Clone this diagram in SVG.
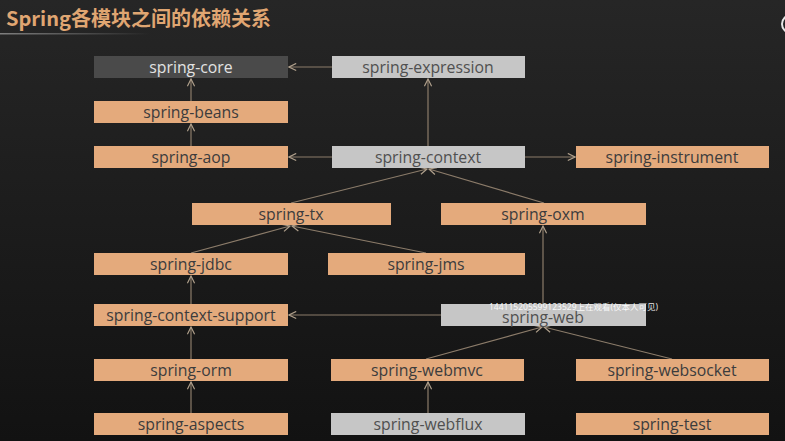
<svg xmlns="http://www.w3.org/2000/svg" width="785" height="441" viewBox="0 0 785 441">
<defs>
<linearGradient id="bg" x1="0" y1="0" x2="0" y2="1">
<stop offset="0" stop-color="#262626"/>
<stop offset="0.5" stop-color="#1c1c1c"/>
<stop offset="1" stop-color="#121212"/>
</linearGradient>
<linearGradient id="ul" x1="0" y1="0" x2="1" y2="0">
<stop offset="0" stop-color="#888" stop-opacity="0.9"/>
<stop offset="1" stop-color="#888" stop-opacity="0"/>
</linearGradient>
<marker id="arr" viewBox="0 0 10 10" refX="9" refY="5" markerWidth="9" markerHeight="9" markerUnits="userSpaceOnUse" orient="auto">
<path d="M1,1 L9,5 L1,9" fill="none" stroke="#b0a08c" stroke-width="1.3"/>
</marker>
<style>
.o{fill:#e4aa7c}
.g{fill:#c6c6c6}
.d{fill:#4a4a4a}
.t{font-family:"Open Sans","Noto Sans","DejaVu Sans",sans-serif;font-size:15.8px;text-anchor:middle;fill:#3c3c3c}
.tg{fill:#505050}
.td{fill:#e2e2e2}
.c line{stroke:#8c7c6a;stroke-width:1.2;marker-end:url(#arr)}
</style>
</defs>
<rect width="785" height="441" fill="url(#bg)"/>
<text x="6" y="26" font-family="'Noto Sans CJK SC','Noto Sans',sans-serif" font-size="20" font-weight="bold" fill="#e0a672">Spring各模块之间的依赖关系</text>
<rect x="0" y="33" width="150" height="1.5" fill="url(#ul)"/>
<circle cx="791" cy="24" r="9" fill="none" stroke="#e8e8e8" stroke-width="2"/>
<g class="c">
<line x1="332" y1="67" x2="289" y2="67"/>
<line x1="191" y1="101" x2="191" y2="79"/>
<line x1="191" y1="146" x2="191" y2="124"/>
<line x1="332" y1="157" x2="289" y2="157"/>
<line x1="428" y1="146" x2="428" y2="79"/>
<line x1="525" y1="157" x2="575" y2="157"/>
<line x1="291" y1="203" x2="427" y2="169"/>
<line x1="544" y1="203" x2="429" y2="169"/>
<line x1="191" y1="253" x2="290" y2="226"/>
<line x1="426" y1="253" x2="292" y2="226"/>
<line x1="191" y1="304" x2="191" y2="276"/>
<line x1="441" y1="315" x2="289" y2="315"/>
<line x1="543" y1="304" x2="543" y2="226"/>
<line x1="426" y1="359" x2="542" y2="327"/>
<line x1="672" y1="359" x2="544" y2="327"/>
<line x1="191" y1="359" x2="191" y2="327"/>
<line x1="191" y1="413" x2="191" y2="382"/>
<line x1="428" y1="413" x2="428" y2="382"/>
</g>
<g id="core"><rect class="d" x="94" y="56" width="194" height="22"/><text class="t td" x="191" y="72.5">spring-core</text></g>
<g id="expression"><rect class="g" x="332" y="56" width="193" height="22"/><text class="t tg" x="428" y="72.5">spring-expression</text></g>
<g id="beans"><rect class="o" x="94" y="101" width="194" height="22"/><text class="t" x="191" y="117.5">spring-beans</text></g>
<g id="aop"><rect class="o" x="94" y="146" width="194" height="22"/><text class="t" x="191" y="162.5">spring-aop</text></g>
<g id="context"><rect class="g" x="332" y="146" width="193" height="22"/><text class="t tg" x="428" y="162.5">spring-context</text></g>
<g id="instrument"><rect class="o" x="576" y="146" width="193" height="22"/><text class="t" x="672" y="162.5">spring-instrument</text></g>
<g id="tx"><rect class="o" x="192" y="203" width="199" height="22"/><text class="t" x="291" y="219.5">spring-tx</text></g>
<g id="oxm"><rect class="o" x="441" y="203" width="205" height="22"/><text class="t" x="543" y="219.5">spring-oxm</text></g>
<g id="jdbc"><rect class="o" x="94" y="253" width="194" height="22"/><text class="t" x="191" y="269.5">spring-jdbc</text></g>
<g id="jms"><rect class="o" x="328" y="253" width="197" height="22"/><text class="t" x="426" y="269.5">spring-jms</text></g>
<g id="context-support"><rect class="o" x="94" y="304" width="194" height="22"/><text class="t" x="191" y="320.5">spring-context-support</text></g>
<g id="web"><rect class="g" x="441" y="304" width="205" height="22"/><text class="t tg" x="543" y="323">spring-web</text></g>
<g id="orm"><rect class="o" x="94" y="359" width="194" height="22"/><text class="t" x="191" y="375.5">spring-orm</text></g>
<g id="webmvc"><rect class="o" x="331" y="359" width="193" height="22"/><text class="t" x="427" y="375.5">spring-webmvc</text></g>
<g id="websocket"><rect class="o" x="576" y="359" width="193" height="22"/><text class="t" x="672" y="375.5">spring-websocket</text></g>
<g id="aspects"><rect class="o" x="94" y="413" width="194" height="22"/><text class="t" x="191" y="429.5">spring-aspects</text></g>
<g id="webflux"><rect class="g" x="331" y="413" width="194" height="22"/><text class="t tg" x="428" y="429.5">spring-webflux</text></g>
<g id="test"><rect class="o" x="576" y="413" width="193" height="22"/><text class="t" x="672" y="429.5">spring-test</text></g>
<text x="489" y="309.5" font-family="'Noto Sans','Noto Sans CJK SC',sans-serif" font-size="8.5" fill="#ffffff" fill-opacity="0.9">144115205599123529上在观看(仅本人可见)</text>
</svg>
